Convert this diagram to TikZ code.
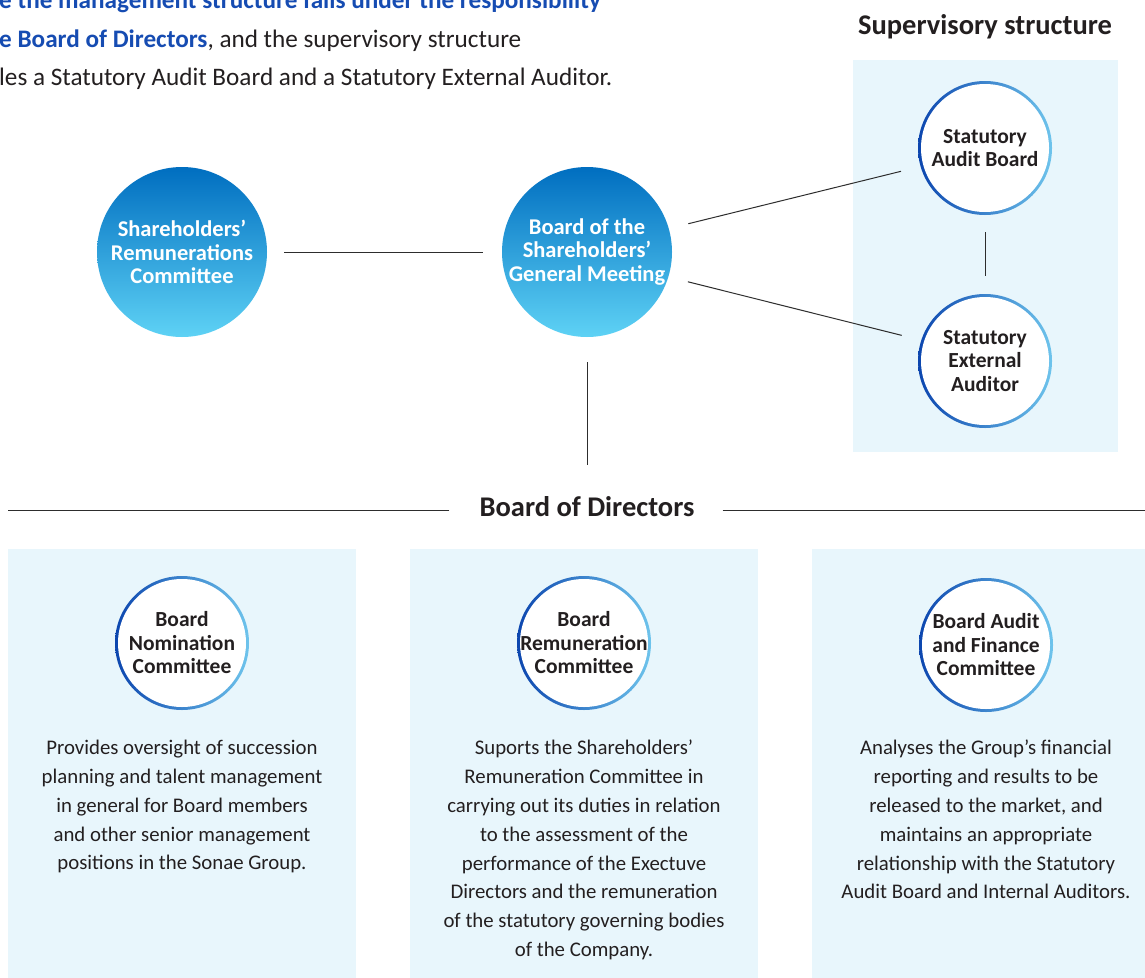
\documentclass[tikz,border=0pt]{standalone}
\usepackage{fontspec}
\setmainfont{Carlito}
\definecolor{headblue}{RGB}{22,76,178}
\definecolor{textdark}{RGB}{35,31,32}
\definecolor{linegray}{RGB}{45,45,45}
\definecolor{panelbg}{RGB}{232,246,252}
\definecolor{disctop}{RGB}{0,110,192}
\definecolor{discbot}{RGB}{94,210,245}
\definecolor{ringdark}{RGB}{12,70,175}
\definecolor{ringlight}{RGB}{110,196,236}
\tikzset{
  bluedisc/.style={circle, minimum size=170pt, inner sep=0pt, top color=disctop, bottom color=discbot,
    text=white, align=center, font=\bfseries\fontsize{22.5}{23.5}\selectfont},
  ringdisc/.style={circle, minimum size=134pt, inner sep=-12pt, left color=ringdark, right color=ringlight,
    path picture={\fill[white] (path picture bounding box.center) circle (64pt);},
    text=textdark, align=center, font=\bfseries\fontsize{21.5}{23.5}\selectfont},
  bodytext/.style={anchor=north, inner sep=0pt, align=center, text=textdark, font=\fontsize{20.8}{28.8}\selectfont},
  introtext/.style={anchor=base west, inner sep=0pt, text=textdark, font=\fontsize{25.2}{38}\selectfont},
  heading/.style={inner sep=0pt, text=textdark, font=\bfseries\fontsize{28.5}{30}\selectfont},
  link/.style={draw=linegray, line width=1pt}
}
\begin{document}
\begin{tikzpicture}[x=1pt,y=-1pt]
\clip (0,0) rectangle (1145,977);
\fill[white] (0,0) rectangle (1145,977);
% panels
\fill[panelbg] (853,60) rectangle (1118,452);
\fill[panelbg] (8,549) rectangle (356,990);
\fill[panelbg] (410,549) rectangle (758,990);
\fill[panelbg] (812,549) rectangle (1160,990);
% intro text
\node[introtext, text=headblue, font=\bfseries\fontsize{25.2}{38}\selectfont] (introa) at (-1,9) {e the management structure falls under the responsibility};
\node[introtext] (introb) at (-1,47) {\textcolor{headblue}{\bfseries e Board of Directors}, and the supervisory structure};
\node[introtext] (introc) at (-1,85) {les a Statutory Audit Board and a Statutory External Auditor.};
% headings
\node[heading, anchor=base] (superv) at (985,34) {Supervisory structure};
\node[heading] (bod) at (587,507) {Board of Directors};
\coordinate (bodL) at (8,510);
\coordinate (bodR) at (1145,510);
% circles
\node[bluedisc] (src) at (182,252) {Shareholders’\\Remunerations\\Committee};
\node[bluedisc] (gm) at (587,252) {Board of the\\Shareholders’\\General Meeting};
\node[ringdisc] (sab) at (985,148) {Statutory\\Audit Board};
\node[ringdisc] (sea) at (985,361) {Statutory\\External\\Auditor};
\node[ringdisc] (bnc) at (182,643) {Board\\Nomination\\Committee};
\node[ringdisc] (brc) at (584,643) {Board\\Remuneration\\Committee};
\node[ringdisc] (bafc) at (986,645) {Board Audit\\and Finance\\Committee};
% connectors
\draw[link, shorten <=17pt, shorten >=19pt] (src) -- (gm);
\draw[link, shorten <=20pt, shorten >=20pt] (gm.16) -- (sab.196);
\draw[link, shorten <=20pt, shorten >=20pt] (gm.-17) -- (sea.162);
\draw[link, shorten <=17pt, shorten >=18pt] (sab) -- (sea);
\draw[link, shorten <=25pt, shorten >=32pt] (gm.south) -- (bod.north);
\draw[link, shorten <=30pt] (bod.west |- bodL) -- (bodL);
\draw[link, shorten <=28pt] (bod.east |- bodR) -- (bodR);
% descriptions
\node[bodytext] (bncText) at (182,740) {Provides oversight of succession\\planning and talent management\\in general for Board members\\and other senior management\\positions in the Sonae Group.};
\node[bodytext] (brcText) at (584,740) {Suports the Shareholders’\\Remuneration Committee in\\carrying out its duties in relation\\to the assessment of the\\performance of the Exectuve\\Directors and the remuneration\\of the statutory governing bodies\\of the Company.};
\node[bodytext] (bafcText) at (986,740) {Analyses the Group’s financial\\reporting and results to be\\released to the market, and\\maintains an appropriate\\relationship with the Statutory\\Audit Board and Internal Auditors.};
\end{tikzpicture}
\end{document}
